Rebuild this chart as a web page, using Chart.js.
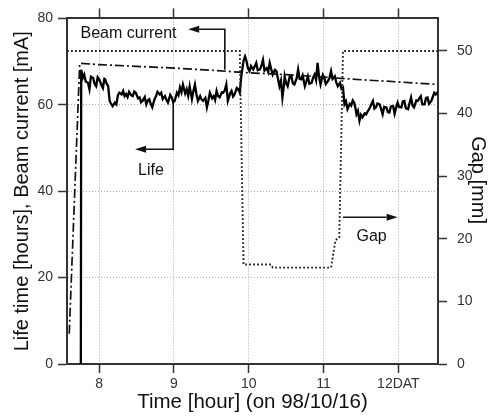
<!DOCTYPE html>
<html>
<head>
<meta charset="utf-8">
<script src="https://cdn.jsdelivr.net/npm/chart.js@4.4.0/dist/chart.umd.min.js"></script>
<style>
  html, body { margin: 0; padding: 0; background: #fff; }
</style>
</head>
<body>
<canvas id="chart" width="494" height="416"></canvas>
<script>
// life time [hours]
const lifeTime = [7.755, 7.76, 7.78, 7.80, 7.82, 7.85, 7.87, 7.89, 7.92, 7.94, 7.96, 7.98, 8.00, 8.03, 8.05, 8.07, 8.08, 8.10, 8.12, 8.14,
  8.16, 8.18, 8.21, 8.23, 8.25, 8.27, 8.30, 8.32, 8.34, 8.36, 8.38, 8.40, 8.43, 8.45, 8.47, 8.49, 8.52, 8.54, 8.56, 8.58,
  8.61, 8.63, 8.65, 8.67, 8.69, 8.71, 8.74, 8.76, 8.78, 8.81, 8.83, 8.85, 8.88, 8.90, 8.92, 8.95, 8.97, 8.99, 9.01, 9.04,
  9.06, 9.08, 9.10, 9.12, 9.15, 9.17, 9.19, 9.21, 9.24, 9.26, 9.28, 9.30, 9.32, 9.35, 9.37, 9.39, 9.42, 9.44, 9.46, 9.48,
  9.51, 9.53, 9.55, 9.57, 9.59, 9.61, 9.64, 9.66, 9.68, 9.70, 9.72, 9.75, 9.77, 9.79, 9.81, 9.84, 9.86, 9.88, 9.90, 9.93,
  9.95, 9.97, 9.99, 10.01, 10.03, 10.06, 10.08, 10.10, 10.12, 10.15, 10.17, 10.19, 10.21, 10.24, 10.26, 10.28, 10.30, 10.32, 10.35, 10.37,
  10.39, 10.41, 10.43, 10.45, 10.47, 10.48, 10.50, 10.52, 10.55, 10.57, 10.59, 10.61, 10.64, 10.66, 10.68, 10.70, 10.72, 10.75, 10.77, 10.79,
  10.81, 10.84, 10.86, 10.88, 10.90, 10.92, 10.94, 10.96, 10.99, 11.01, 11.03, 11.06, 11.08, 11.10, 11.12, 11.15, 11.17, 11.19, 11.22, 11.24,
  11.26, 11.28, 11.30, 11.32, 11.35, 11.37, 11.39, 11.41, 11.43, 11.44, 11.46, 11.48, 11.50, 11.52, 11.55, 11.57, 11.59, 11.61, 11.64, 11.66,
  11.68, 11.70, 11.72, 11.75, 11.77, 11.79, 11.81, 11.84, 11.86, 11.88, 11.90, 11.93, 11.95, 11.97, 11.99, 12.01, 12.04, 12.06, 12.08, 12.10,
  12.13, 12.15, 12.17, 12.19, 12.21, 12.24, 12.26, 12.28, 12.30, 12.32, 12.35, 12.37, 12.39, 12.41, 12.44, 12.46, 12.48, 12.50, 12.53];
const lifeValue = [0, 68.1, 66.2, 67.0, 65.4, 65.1, 63.6, 66.5, 66.2, 64.8, 64.3, 66.4, 65.9, 64.6, 63.9, 66.0, 65.9, 64.9, 64.3, 60.9,
  60.2, 59.7, 60.5, 60.1, 62.2, 62.8, 62.4, 63.2, 62.0, 62.5, 61.8, 63.0, 62.2, 62.0, 63.1, 62.8, 61.5, 61.7, 60.6, 60.9,
  61.8, 60.1, 61.0, 61.3, 60.2, 59.4, 61.3, 62.0, 63.0, 62.4, 62.8, 61.3, 62.0, 61.1, 60.5, 62.3, 61.7, 60.6, 60.9, 62.8,
  62.2, 64.0, 62.9, 64.7, 62.6, 63.6, 62.1, 64.3, 61.3, 63.2, 64.7, 62.5, 60.9, 62.0, 61.2, 60.9, 61.6, 59.4, 61.0, 62.8,
  61.5, 62.0, 61.1, 63.2, 62.0, 61.7, 62.9, 62.8, 63.4, 64.7, 60.9, 62.6, 63.2, 61.9, 62.4, 63.9, 63.6, 62.8, 66.6, 70.2,
  71.2, 70.1, 68.4, 67.8, 69.0, 68.2, 68.9, 69.7, 68.0, 68.2, 69.1, 70.4, 67.9, 68.5, 67.6, 69.7, 68.3, 67.0, 68.1, 67.8,
  66.1, 64.3, 65.6, 61.7, 64.5, 66.6, 65.0, 64.3, 66.8, 66.6, 64.9, 64.7, 66.1, 68.2, 66.0, 65.9, 66.8, 64.3, 65.4, 66.6,
  64.9, 65.1, 66.3, 67.0, 65.7, 69.7, 66.5, 64.7, 66.9, 66.2, 64.8, 65.5, 66.3, 67.8, 66.0, 66.6, 65.2, 64.3, 65.1, 63.7,
  64.0, 60.1, 60.8, 59.0, 60.2, 59.8, 61.0, 60.5, 58.9, 57.8, 58.6, 56.3, 57.7, 57.1, 58.0, 57.8, 58.5, 59.0, 60.2, 60.9,
  59.1, 59.4, 60.3, 60.1, 59.0, 57.8, 59.5, 59.4, 58.3, 58.2, 59.6, 59.7, 57.9, 59.3, 60.5, 59.5, 59.4, 60.8, 60.9, 59.2,
  59.0, 60.4, 61.7, 59.8, 59.4, 61.0, 60.9, 61.5, 62.0, 60.1, 60.1, 61.6, 61.7, 60.2, 60.9, 61.8, 62.8, 62.4, 63.0];

// beam current [mA], dash-dot curve
const beamTime = [7.60, 7.74, 8.0, 8.5, 9.0, 9.5, 10.0, 10.5, 11.0, 11.5, 12.0, 12.53];
const beamValue = [7.0, 69.6, 69.3, 68.9, 68.5, 68.0, 67.4, 67.0, 66.4, 65.8, 65.3, 64.7];

// undulator gap [mm], dotted curve (right axis)
const gapTime = [7.57, 9.88, 9.93, 10.30, 10.32, 11.10, 11.16, 11.21, 11.26, 12.53];
const gapValue = [50, 50, 15.9, 15.9, 15.4, 15.4, 19.8, 20.2, 50, 50];

// labels written inside the plot, placed in data units (left axis)
const noteText = ['Beam current', 'Life', 'Gap'];
const noteX = [7.75, 8.52, 11.44];
const noteY = [75.4, 43.7, 28.4];
const arrowPaths = [
  [[9.68, 68.1], [9.68, 77.5], [9.19, 77.5]],
  [[8.99, 60.5], [8.99, 49.7], [8.48, 49.7]],
  [[11.26, 33.96], [11.99, 33.96]]
];

const fam = "'Liberation Sans', Arial, sans-serif";

function pts(xs, ys) {
  return xs.map((t, i) => ({x: t, y: ys[i]}));
}

const notes = {
  id: 'notes',
  afterDatasetsDraw(chart) {
    const {ctx, scales: {x, y}} = chart;
    ctx.save();
    ctx.fillStyle = '#111';
    ctx.strokeStyle = '#111';
    ctx.font = '16px ' + fam;
    ctx.textBaseline = 'alphabetic';
    ctx.textAlign = 'left';
    noteText.forEach((t, i) => {
      ctx.fillText(t, x.getPixelForValue(noteX[i]), y.getPixelForValue(noteY[i]));
    });
    ctx.lineWidth = 1.6;
    arrowPaths.forEach(path => {
      const p = path.map(q => [x.getPixelForValue(q[0]), y.getPixelForValue(q[1])]);
      const n = p.length;
      const ang = Math.atan2(p[n-1][1] - p[n-2][1], p[n-1][0] - p[n-2][0]);
      const L = 11, W = 3.5;
      const bx = p[n-1][0] - L * Math.cos(ang), by = p[n-1][1] - L * Math.sin(ang);
      ctx.beginPath();
      ctx.moveTo(p[0][0], p[0][1]);
      for (let i = 1; i < n - 1; i++) ctx.lineTo(p[i][0], p[i][1]);
      ctx.lineTo(bx, by);
      ctx.stroke();
      ctx.beginPath();
      ctx.moveTo(p[n-1][0], p[n-1][1]);
      ctx.lineTo(bx + W * Math.sin(ang), by - W * Math.cos(ang));
      ctx.lineTo(bx - W * Math.sin(ang), by + W * Math.cos(ang));
      ctx.closePath();
      ctx.fill();
    });
    ctx.restore();
  }
};

const tickFont = {family: fam, size: 14};
const titleFont = {family: fam, size: 20};

new Chart(document.getElementById('chart'), {
  type: 'line',
  data: {
    datasets: [
      {
        label: 'Gap', data: pts(gapTime, gapValue), yAxisID: 'y2',
        borderColor: '#222', borderWidth: 1.9, borderDash: [1.8, 2.2], pointRadius: 0, fill: false
      },
      {
        label: 'Beam current', data: pts(beamTime, beamValue), yAxisID: 'y',
        borderColor: '#111', borderWidth: 1.7, borderDash: [9, 3, 2, 3], pointRadius: 0, fill: false
      },
      {
        label: 'Life', data: pts(lifeTime, lifeValue), yAxisID: 'y',
        borderColor: '#000', borderWidth: 2.3, pointRadius: 0, fill: false
      }
    ]
  },
  options: {
    responsive: false,
    animation: false,
    devicePixelRatio: 1,
    layout: {padding: 0},
    plugins: {legend: {display: false}, tooltip: {enabled: false}},
    scales: {
      x: {
        type: 'linear', position: 'bottom', min: 7.57, max: 12.53,
        ticks: {stepSize: 1, includeBounds: false, autoSkip: false, maxRotation: 0, color: '#333', font: tickFont, padding: 3,
          callback: v => v === 12 ? '12DAT' : v},
        grid: {color: '#aaa', lineWidth: 1, tickColor: '#333', tickLength: 9, tickWidth: 1.5, tickBorderDash: []},
        border: {color: '#333', width: 2, dash: [1, 2]},
        title: {display: true, text: 'Time [hour] (on 98/10/16)', color: '#111', font: {family: fam, size: 20.5}, padding: {top: 0, bottom: 1.5}},
        afterFit: s => { s.height = 52; }
      },
      x2: {
        type: 'linear', position: 'top', min: 7.57, max: 12.53,
        ticks: {stepSize: 1, includeBounds: false, display: false},
        grid: {drawOnChartArea: false, tickColor: '#333', tickLength: 10, tickWidth: 1.5},
        border: {color: '#333', width: 2},
        afterFit: s => { s.height = 15; }
      },
      y: {
        type: 'linear', position: 'left', min: 0, max: 80,
        ticks: {stepSize: 20, color: '#333', font: tickFont, padding: 5},
        grid: {color: '#aaa', lineWidth: 1, tickColor: '#333', tickLength: 9, tickWidth: 1.5, tickBorderDash: []},
        border: {color: '#333', width: 2, dash: [1, 2]},
        title: {display: true, text: 'Life time [hours], Beam current [mA]', color: '#111', font: titleFont, padding: {top: 10, bottom: 0}},
        afterFit: s => { s.width = 67; }
      },
      y2: {
        type: 'linear', position: 'right', min: 0, max: 55.2,
        ticks: {stepSize: 10, includeBounds: false, color: '#333', font: tickFont, padding: 10},
        grid: {drawOnChartArea: false, tickColor: '#333', tickLength: 9, tickWidth: 1.5},
        border: {color: '#333', width: 2},
        title: {display: true, text: 'Gap [mm]    ', color: '#111', font: titleFont, padding: {top: 4, bottom: 0}},
        afterFit: s => { s.width = 56; }
      }
    }
  },
  plugins: [notes]
});
</script>
</body>
</html>
